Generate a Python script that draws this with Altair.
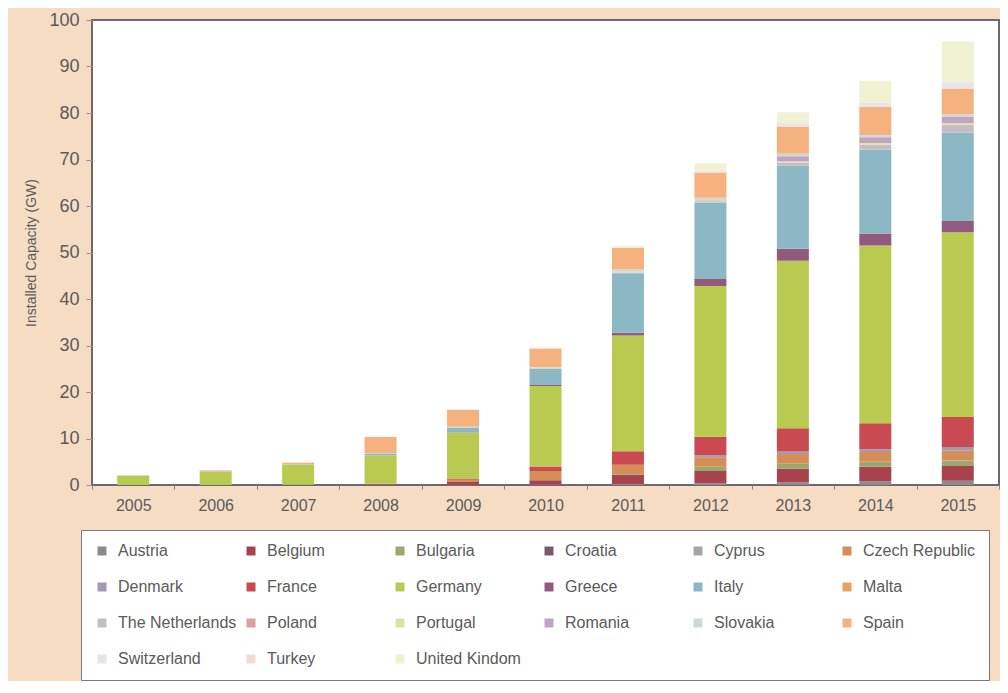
import altair as alt
import pandas as pd

years = ["2005", "2006", "2007", "2008", "2009", "2010", "2011", "2012", "2013", "2014", "2015"]

countries = ["Austria", "Belgium", "Bulgaria", "Croatia", "Cyprus", "Czech Republic",
             "Denmark", "France", "Germany", "Greece", "Italy", "Malta",
             "The Netherlands", "Poland", "Portugal", "Romania", "Slovakia", "Spain",
             "Switzerland", "Turkey", "United Kindom"]

colors = ["#8c8a8c", "#a8424c", "#9aa86c", "#7a5a6a", "#a4a4a6", "#d48e56",
          "#a09ab2", "#c94a50", "#bac94f", "#935a80", "#8cb8c6", "#e4a466",
          "#c4bcc6", "#d8a0a2", "#dde2a8", "#c0a4c4", "#cdd8da", "#f6b27e",
          "#e6e6ea", "#efdcd8", "#f1f2d2"]

# Installed capacity (GW) per country, 2005-2015
austria     = [0.02, 0.02, 0.03, 0.03, 0.05, 0.10, 0.20, 0.40, 0.60, 0.80, 0.90]
belgium     = [0.00, 0.00, 0.02, 0.07, 0.60, 0.90, 2.00, 2.60, 2.90, 3.10, 3.20]
bulgaria    = [0.00, 0.00, 0.00, 0.00, 0.01, 0.03, 0.15, 0.90, 1.00, 1.00, 1.00]
croatia     = [0.00, 0.00, 0.00, 0.00, 0.00, 0.00, 0.00, 0.00, 0.02, 0.03, 0.05]
cyprus      = [0.00, 0.00, 0.00, 0.00, 0.00, 0.01, 0.01, 0.02, 0.03, 0.06, 0.10]
czech       = [0.00, 0.00, 0.00, 0.05, 0.46, 1.95, 1.96, 2.07, 2.10, 2.10, 2.10]
denmark     = [0.00, 0.00, 0.00, 0.00, 0.00, 0.01, 0.02, 0.40, 0.55, 0.60, 0.80]
france      = [0.00, 0.00, 0.03, 0.10, 0.30, 1.00, 2.90, 4.00, 5.00, 5.60, 6.50]
germany     = [2.00, 2.90, 4.20, 6.10, 9.80, 17.30, 24.90, 32.40, 36.00, 38.20, 39.70]
greece      = [0.00, 0.00, 0.01, 0.02, 0.05, 0.20, 0.60, 1.50, 2.60, 2.60, 2.40]
italy       = [0.00, 0.05, 0.10, 0.40, 1.10, 3.50, 12.80, 16.40, 17.80, 18.00, 19.00]
malta       = [0.00, 0.00, 0.00, 0.00, 0.00, 0.00, 0.01, 0.02, 0.03, 0.05, 0.07]
netherlands = [0.05, 0.05, 0.05, 0.06, 0.07, 0.09, 0.15, 0.30, 0.70, 1.00, 1.50]
poland      = [0.00, 0.00, 0.00, 0.00, 0.00, 0.00, 0.00, 0.00, 0.01, 0.03, 0.10]
portugal    = [0.00, 0.00, 0.02, 0.07, 0.10, 0.13, 0.15, 0.23, 0.28, 0.40, 0.45]
romania     = [0.00, 0.00, 0.00, 0.00, 0.00, 0.00, 0.00, 0.05, 1.10, 1.20, 1.30]
slovakia    = [0.00, 0.00, 0.00, 0.00, 0.00, 0.15, 0.50, 0.50, 0.50, 0.50, 0.50]
spain       = [0.05, 0.15, 0.30, 3.40, 3.60, 4.00, 4.60, 5.40, 5.90, 6.00, 5.60]
switzerland = [0.02, 0.03, 0.03, 0.05, 0.07, 0.10, 0.20, 0.40, 0.70, 1.00, 1.30]
turkey      = [0.00, 0.00, 0.00, 0.00, 0.00, 0.00, 0.00, 0.01, 0.02, 0.05, 0.20]
uk          = [0.01, 0.01, 0.02, 0.02, 0.03, 0.08, 0.30, 1.60, 2.30, 4.60, 8.60]

series = [austria, belgium, bulgaria, croatia, cyprus, czech, denmark, france,
          germany, greece, italy, malta, netherlands, poland, portugal, romania,
          slovakia, spain, switzerland, turkey, uk]

rows = []
for i, (name, vals) in enumerate(zip(countries, series)):
    for y, v in zip(years, vals):
        rows.append({"Year": y, "Country": name, "GW": v, "idx": i})
df = pd.DataFrame(rows)

FONT = "Liberation Sans"
TXT = "#5a5a5a"

chart = alt.Chart(df).mark_bar(size=32).encode(
    x=alt.X("Year:O", sort=years, title=None,
            scale=alt.Scale(paddingInner=0, paddingOuter=0),
            axis=alt.Axis(labelAngle=0, labelFontSize=16, labelColor=TXT, labelFont=FONT,
                          tickBand="extent", tickSize=4, tickColor="#8a8288",
                          labelPadding=8, domain=False)),
    y=alt.Y("GW:Q", stack="zero", title="Installed Capacity (GW)",
            scale=alt.Scale(domain=[0, 100], nice=False),
            axis=alt.Axis(values=list(range(0, 101, 10)), grid=False, domain=False,
                          labelFontSize=18, labelColor=TXT, labelFont=FONT,
                          tickSize=6, tickColor="#9a9298", labelPadding=7,
                          titleFont=FONT, titleFontSize=14, titleColor=TXT,
                          titleFontWeight="normal", titlePadding=10)),
    color=alt.Color("Country:N",
                    scale=alt.Scale(domain=countries, range=colors),
                    legend=alt.Legend(title=None, orient="none", legendX=-11, legendY=510,
                                      columns=6, gridAlign="all", direction="horizontal",
                                      symbolType="square", symbolSize=81, symbolStrokeWidth=0,
                                      labelFont=FONT, labelFontSize=16, labelColor=TXT,
                                      labelOffset=8, labelLimit=200,
                                      columnPadding=6, rowPadding=20, padding=13,
                                      fillColor="white", strokeColor="#7e7682")),
    order=alt.Order("idx:Q", sort="ascending"),
).properties(
    width=907, height=465,
    padding={"left": 16, "top": 3, "right": 0, "bottom": 0},
    background="#f6dcc3",
).configure_view(
    fill="white", stroke="#6e6672", strokeWidth=2
)

chart.save("out.html", embed_options={"renderer": "svg", "actions": False})
